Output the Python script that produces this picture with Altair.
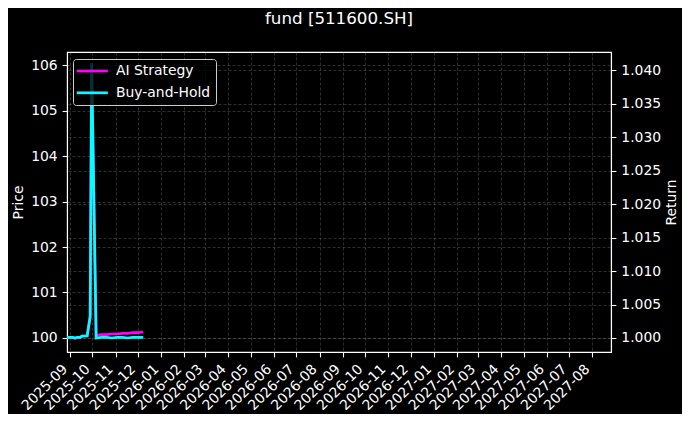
import altair as alt
import pandas as pd

# ---- data ----
dates = ["2025-08-28", "2025-09-01", "2025-09-04", "2025-09-08", "2025-09-11",
         "2025-09-15", "2025-09-17", "2025-09-19", "2025-09-24", "2025-09-28",
         "2025-09-30", "2025-10-06", "2025-10-13", "2025-10-20", "2025-10-27",
         "2025-11-03", "2025-11-10", "2025-11-17", "2025-11-24", "2025-12-01",
         "2025-12-08"]
buy_hold = [1.0001, 1.0001, 1.0001, 1.0000, 1.0001,
            1.0001, 1.0003, 1.0003, 1.0003, 1.0032,
            1.0410, 1.0000, 1.0001, 1.0001, 1.0000,
            1.0001, 1.0001, 1.0000, 1.0001, 1.0001,
            1.0001]
ai_strategy = [1.0001, 1.0001, 1.0001, 1.0000, 1.0001,
               1.0001, 1.0003, 1.0003, 1.0003, 1.0032,
               1.0410, 1.0004, 1.0005, 1.0005, 1.0006,
               1.0006, 1.0007, 1.0007, 1.0008, 1.0008,
               1.0009]
price = [100.00, 100.00, 100.00, 100.00, 100.00,
         100.00, 100.02, 100.02, 100.03, 100.45,
         106.00, 100.00, 100.00, 100.00, 100.00,
         100.00, 100.00, 100.00, 100.00, 100.00,
         100.00]
series_names = ["AI Strategy", "Buy-and-Hold"]
series_colors = ["#ff00ff", "#00ffff"]
price_ticks = [100, 101, 102, 103, 104, 105, 106]
return_ticks = [1.000, 1.005, 1.010, 1.015, 1.020, 1.025, 1.030, 1.035, 1.040]
title_text = "fund [511600.SH]"

ts = [d + "T00:00:00" for d in dates]
df_price = pd.DataFrame({"date": ts, "price": price})
df_ret = pd.DataFrame({
    "date": ts + ts,
    "series": [series_names[0]] * len(ts) + [series_names[1]] * len(ts),
    "ret": ai_strategy + buy_hold,
})

FONT = "DejaVu Sans"
GRID = dict(grid=True, gridColor="#808080", gridOpacity=0.45, gridDash=[3, 2], gridWidth=0.8)
AX = dict(domainColor="white", domainWidth=1.1, tickColor="white", tickWidth=1.1, tickSize=4.9,
          labelColor="white", labelFont=FONT, labelFontSize=13.9, labelPadding=4.9,
          titleColor="white", titleFont=FONT, titleFontSize=13.9, titleFontWeight="normal")

x = alt.X(
    "date:T",
    scale=alt.Scale(domain=[alt.DateTime(year=2025, month=8, date=28),
                            alt.DateTime(year=2027, month=8, date=26)]),
    axis=alt.Axis(title=None, format="%Y-%m", tickCount={"interval": "month", "step": 1},
                  labelAngle=-45, labelAlign="right", labelBaseline="top", labelOffset=-10,
                  labelOverlap=False, labelFlush=False, **GRID, **AX),
)

price_line = alt.Chart(df_price).mark_line(color="#9a9a9a", strokeWidth=1, opacity=0.3).encode(
    x=x,
    y=alt.Y("price:Q",
            scale=alt.Scale(domain=[99.69, 106.29], nice=False, zero=False),
            axis=alt.Axis(title="Price", orient="left", values=price_ticks, format="d",
                          titlePadding=5.6, **GRID, **AX)),
)

ret_lines = alt.Chart(df_ret).mark_line(strokeWidth=2.7).encode(
    x=x,
    y=alt.Y("ret:Q",
            scale=alt.Scale(domain=[0.99791, 1.04269], nice=False, zero=False),
            axis=alt.Axis(title="Return", orient="right", values=return_ticks, format=".3f",
                          titleAngle=270, titleBaseline="top", titlePadding=4, **GRID, **AX)),
    color=alt.Color("series:N",
                    scale=alt.Scale(domain=series_names, range=series_colors),
                    legend=alt.Legend(title=None, orient="none", legendX=6, legendY=7,
                                      symbolType="M-3,0L3,0", symbolSize=107, symbolStrokeWidth=2.7,
                                      symbolOffset=7.3,
                                      labelFont=FONT, labelFontSize=13.9, labelColor="white",
                                      labelOffset=16.7, rowPadding=7.8, padding=5,
                                      fillColor="rgba(0,0,0,0.8)", strokeColor="#cccccc",
                                      cornerRadius=3)),
)

chart = alt.layer(price_line, ret_lines).resolve_scale(y="independent").properties(
    width=544, height=300,
    title=alt.TitleParams(title_text, fontSize=16.7, color="white", font=FONT,
                          fontWeight="normal", anchor="middle", offset=24),
    autosize=alt.AutoSizeParams(type="none"),
    padding={"left": 59, "top": 44, "right": 71, "bottom": 62},
).configure(background="black").configure_view(fill="black", stroke="white", strokeWidth=1.1)

chart.save("out.html", embed_options={"renderer": "svg", "actions": False})
